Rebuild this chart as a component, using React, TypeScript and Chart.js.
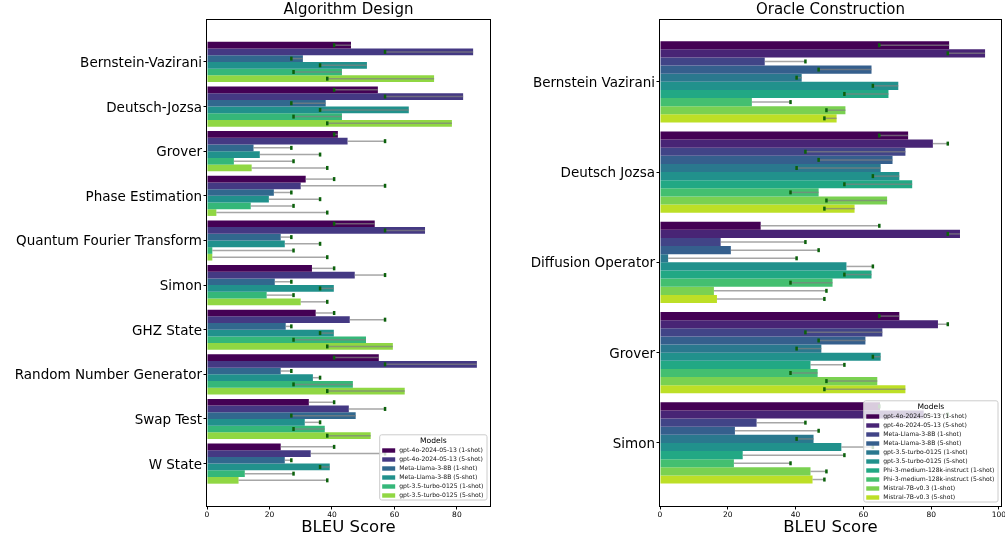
import React, { useEffect, useRef } from 'react';
import { Chart, registerables } from 'chart.js';

Chart.register(...registerables);
Chart.defaults.font.family = "'DejaVu Sans', sans-serif";

// ---------- Left panel: Algorithm Design ----------
const algoCategories = [
  'Bernstein-Vazirani',
  'Deutsch-Jozsa',
  'Grover',
  'Phase Estimation',
  'Quantum Fourier Transform',
  'Simon',
  'GHZ State',
  'Random Number Generator',
  'Swap Test',
  'W State',
];
const algoModels = [
  'gpt-4o-2024-05-13 (1-shot)',
  'gpt-4o-2024-05-13 (5-shot)',
  'Meta-Llama-3-8B (1-shot)',
  'Meta-Llama-3-8B (5-shot)',
  'gpt-3.5-turbo-0125 (1-shot)',
  'gpt-3.5-turbo-0125 (5-shot)',
];
const algoGpt4o1 = [46.1, 54.7, 41.9, 31.6, 53.7, 33.6, 34.8, 55.0, 32.6, 23.6];
const algoGpt4o5 = [85.2, 82.0, 45.0, 30.0, 69.8, 47.3, 45.7, 86.4, 45.4, 33.2];
const algoLlama1 = [30.7, 38.0, 14.9, 21.4, 23.6, 21.7, 25.2, 23.6, 47.6, 24.9];
const algoLlama5 = [51.2, 64.6, 16.9, 19.8, 24.9, 40.6, 40.6, 33.9, 31.3, 39.3];
const algoGpt35_1 = [43.2, 43.2, 8.6, 14.0, 1.7, 19.1, 50.9, 46.7, 37.7, 12.1];
const algoGpt35_5 = [72.7, 78.4, 14.3, 3.0, 1.7, 30.0, 59.5, 63.3, 52.4, 10.1];
const algoMeans = [40.7, 57.0, 27.0, 36.2, 27.7, 38.5];
const algoColors = ['#440154', '#443983', '#31688e', '#21918c', '#35b779', '#90d743'];
const algoXTicks = [0, 20, 40, 60, 80];

// ---------- Right panel: Oracle Construction ----------
const oracleCategories = [
  'Bernstein Vazirani',
  'Deutsch Jozsa',
  'Diffusion Operator',
  'Grover',
  'Simon',
];
const oracleModels = [
  'gpt-4o-2024-05-13 (1-shot)',
  'gpt-4o-2024-05-13 (5-shot)',
  'Meta-Llama-3-8B (1-shot)',
  'Meta-Llama-3-8B (5-shot)',
  'gpt-3.5-turbo-0125 (1-shot)',
  'gpt-3.5-turbo-0125 (5-shot)',
  'Phi-3-medium-128k-instruct (1-shot)',
  'Phi-3-medium-128k-instruct (5-shot)',
  'Mistral-7B-v0.3 (1-shot)',
  'Mistral-7B-v0.3 (5-shot)',
];
const oracleGpt4o1 = [85.3, 73.2, 29.7, 70.6, 64.9];
const oracleGpt4o5 = [95.9, 80.5, 88.5, 82.0, 77.8];
const oracleLlama1 = [30.9, 72.4, 17.9, 65.6, 28.5];
const oracleLlama5 = [62.4, 68.6, 20.9, 60.6, 22.1];
const oracleGpt35_1 = [41.8, 65.1, 2.4, 47.6, 45.3];
const oracleGpt35_5 = [70.3, 70.6, 55.0, 65.1, 53.5];
const oraclePhi1 = [67.4, 74.4, 62.4, 44.4, 24.4];
const oraclePhi5 = [27.1, 46.8, 50.9, 46.5, 21.8];
const oracleMistral1 = [54.7, 67.0, 15.9, 64.1, 44.4];
const oracleMistral5 = [52.1, 57.4, 16.8, 72.4, 45.0];
const oracleMeans = [64.7, 84.9, 42.9, 46.8, 40.3, 62.8, 54.4, 38.5, 49.1, 48.5];
const oracleColors = [
  '#440154', '#482475', '#414487', '#355f8d', '#2a788e',
  '#21918c', '#22a884', '#44bf70', '#7ad151', '#bddf26',
];
const oracleXTicks = [0, 20, 40, 60, 80, 100];

type PanelCfg = {
  title: string;
  categories: string[];
  models: string[];
  series: number[][];
  means: number[];
  colors: string[];
  xTicks: number[];
  xMax: number;
  yMin: number;
  yMax: number;
  yAxisWidth: number;
  padRight: number;
  legendBottomPad: number;
};

function buildPanel(canvas: HTMLCanvasElement, cfg: PanelCfg) {
  const { title, categories, models, series, means, colors, xTicks, xMax, yMin, yMax, yAxisWidth, padRight, legendBottomPad } = cfg;

  const datasets = series.map((vals, i) => ({
    label: models[i],
    data: vals.map((v, j) => ({ x: v, y: j })),
    backgroundColor: colors[i],
    borderWidth: 0,
    categoryPercentage: 0.9,
    barPercentage: 1.0,
  }));

  const meanLines = {
    id: 'meanLines',
    afterDatasetsDraw(chart: any) {
      const ctx = chart.ctx;
      const xs = chart.scales.x;
      chart.data.datasets.forEach((_ds: any, i: number) => {
        const meta = chart.getDatasetMeta(i);
        const mx = xs.getPixelForValue(means[i]);
        meta.data.forEach((bar: any) => {
          ctx.save();
          ctx.strokeStyle = 'rgba(128,128,128,0.7)';
          ctx.lineWidth = 1.5;
          ctx.beginPath();
          ctx.moveTo(bar.x, bar.y);
          ctx.lineTo(mx, bar.y);
          ctx.stroke();
          ctx.fillStyle = '#0b610b';
          ctx.fillRect(mx - 1.25, bar.y - 2, 2.5, 4);
          ctx.restore();
        });
      });
    },
  };

  const frame = {
    id: 'frame',
    afterDatasetsDraw(chart: any) {
      const { ctx, chartArea } = chart;
      ctx.save();
      ctx.strokeStyle = '#000';
      ctx.lineWidth = 1;
      ctx.strokeRect(
        Math.round(chartArea.left) - 0.5,
        Math.round(chartArea.top) - 0.5,
        Math.round(chartArea.right - chartArea.left) + 1,
        Math.round(chartArea.bottom - chartArea.top) + 1
      );
      ctx.restore();
    },
  };

  const boxLegend = {
    id: 'boxLegend',
    afterDraw(chart: any) {
      const { ctx, chartArea } = chart;
      ctx.save();
      const entryFont = "6.1px 'DejaVu Sans', sans-serif";
      ctx.font = entryFont;
      const maxW = Math.max(...models.map((m) => ctx.measureText(m).width));
      const w = 19.5 + maxW + 3.5;
      const h = 15.7 + (models.length - 1) * 9 + 4.5;
      const right = chartArea.right - 3;
      const bottom = chartArea.bottom - legendBottomPad;
      const left = right - w;
      const top = bottom - h;
      const r = 2;
      ctx.beginPath();
      ctx.moveTo(left + r, top);
      ctx.lineTo(right - r, top);
      ctx.quadraticCurveTo(right, top, right, top + r);
      ctx.lineTo(right, bottom - r);
      ctx.quadraticCurveTo(right, bottom, right - r, bottom);
      ctx.lineTo(left + r, bottom);
      ctx.quadraticCurveTo(left, bottom, left, bottom - r);
      ctx.lineTo(left, top + r);
      ctx.quadraticCurveTo(left, top, left + r, top);
      ctx.closePath();
      ctx.fillStyle = 'rgba(255,255,255,0.8)';
      ctx.fill();
      ctx.strokeStyle = '#cccccc';
      ctx.lineWidth = 1;
      ctx.stroke();

      ctx.fillStyle = '#000';
      ctx.textAlign = 'center';
      ctx.textBaseline = 'middle';
      ctx.font = "7.6px 'DejaVu Sans', sans-serif";
      ctx.fillText('Models', left + w / 2, top + 6);

      ctx.font = entryFont;
      ctx.textAlign = 'left';
      models.forEach((m, i) => {
        const cy = top + 15.7 + i * 9;
        ctx.fillStyle = colors[i];
        ctx.fillRect(left + 2.5, cy - 2.2, 13, 4.4);
        ctx.fillStyle = '#111';
        ctx.fillText(m, left + 19.5, cy);
      });
      ctx.restore();
    },
  };

  const tickGrid = {
    display: true,
    drawOnChartArea: false,
    drawTicks: true,
    tickLength: 3.5,
    color: '#000',
    lineWidth: 1,
    offset: false,
  };

  return new Chart(canvas, {
    type: 'bar',
    data: { datasets } as any,
    plugins: [meanLines, frame, boxLegend],
    options: {
      indexAxis: 'y',
      responsive: false,
      animation: false,
      events: [],
      layout: { padding: { left: 0, right: padRight, top: 0, bottom: 0 } },
      plugins: {
        legend: { display: false },
        tooltip: { enabled: false },
        title: {
          display: true,
          text: title,
          fullSize: false,
          color: '#000',
          font: { size: 15, weight: 'normal', lineHeight: 1.2 },
          padding: { top: 1, bottom: 1 },
        },
      },
      scales: {
        x: {
          type: 'linear',
          position: 'bottom',
          min: 0,
          max: xMax,
          bounds: 'data',
          offset: false,
          afterBuildTicks: (s: any) => {
            s.ticks = xTicks.map((v) => ({ value: v }));
          },
          afterFit: (s: any) => {
            s.height = 35;
            s.paddingLeft = 0;
            s.paddingRight = 0;
          },
          ticks: {
            color: '#000',
            font: { size: 7.5 },
            padding: 1.5,
            maxRotation: 0,
            autoSkip: false,
          },
          grid: tickGrid,
          border: { display: false },
          title: {
            display: true,
            text: 'BLEU Score',
            color: '#000',
            font: { size: 16.5, lineHeight: 1.2 },
            padding: { top: 0, bottom: 3 },
          },
        },
        y: {
          type: 'linear',
          position: 'left',
          min: yMin,
          max: yMax,
          reverse: true,
          bounds: 'data',
          offset: false,
          afterBuildTicks: (s: any) => {
            s.ticks = categories.map((_c, i) => ({ value: i }));
          },
          afterFit: (s: any) => {
            s.width = yAxisWidth;
            s.paddingTop = 0;
            s.paddingBottom = 0;
          },
          ticks: {
            color: '#000',
            font: { size: 13.5 },
            padding: 1.5,
            labelOffset: 1.5,
            autoSkip: false,
            callback: (v: any) => categories[v as number],
          },
          grid: tickGrid,
          border: { display: false },
        },
      },
    } as any,
  });
}

export default function App() {
  const leftRef = useRef<HTMLCanvasElement>(null);
  const rightRef = useRef<HTMLCanvasElement>(null);

  useEffect(() => {
    const c1 = buildPanel(leftRef.current!, {
      title: 'Algorithm Design',
      categories: algoCategories,
      models: algoModels,
      series: [algoGpt4o1, algoGpt4o5, algoLlama1, algoLlama5, algoGpt35_1, algoGpt35_5],
      means: algoMeans,
      colors: algoColors,
      xTicks: algoXTicks,
      xMax: 90.6,
      yMin: -0.94,
      yMax: 9.95,
      yAxisWidth: 207,
      padRight: 10,
      legendBottomPad: 6,
    });
    const c2 = buildPanel(rightRef.current!, {
      title: 'Oracle Construction',
      categories: oracleCategories,
      models: oracleModels,
      series: [
        oracleGpt4o1, oracleGpt4o5, oracleLlama1, oracleLlama5, oracleGpt35_1,
        oracleGpt35_5, oraclePhi1, oraclePhi5, oracleMistral1, oracleMistral5,
      ],
      means: oracleMeans,
      colors: oracleColors,
      xTicks: oracleXTicks,
      xMax: 100.6,
      yMin: -0.684,
      yMax: 4.698,
      yAxisWidth: 155,
      padRight: 4,
      legendBottomPad: 4,
    });
    return () => {
      c1.destroy();
      c2.destroy();
    };
  }, []);

  return (
    <div
      style={{
        position: 'absolute',
        left: 0,
        top: 0,
        width: 1005,
        height: 541,
        background: '#fff',
        overflow: 'hidden',
      }}
    >
      <canvas
        ref={leftRef}
        width={500}
        height={541}
        style={{ position: 'absolute', left: 0, top: 0, width: 500, height: 541 }}
      />
      <canvas
        ref={rightRef}
        width={500}
        height={541}
        style={{ position: 'absolute', left: 505, top: 0, width: 500, height: 541 }}
      />
    </div>
  );
}
